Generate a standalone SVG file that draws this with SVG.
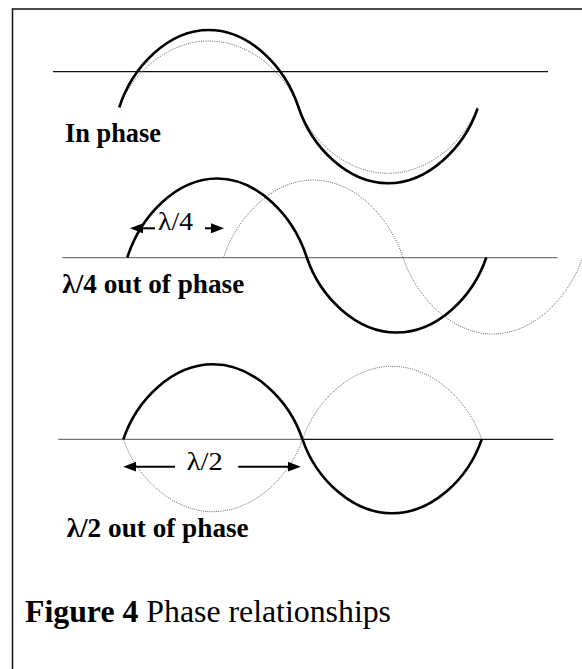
<svg xmlns="http://www.w3.org/2000/svg" width="582" height="669" viewBox="0 0 582 669">
  <style>
    .frame { fill: none; stroke: #111; stroke-width: 1.5; }
    .axis { fill: none; stroke: #111; stroke-width: 1.3; }
    .axis-gray { fill: none; stroke: #777; stroke-width: 1.3; }
    .thick { fill: none; stroke: #000; stroke-width: 2.6; stroke-linejoin: round; stroke-linecap: butt; }
    .dotted { fill: none; stroke: #666; stroke-width: 1; stroke-dasharray: 1 1.2; }
    .arrow { fill: none; stroke: #000; stroke-width: 2; }
    .label { font-family: "Liberation Serif", "Times New Roman", serif; font-weight: bold; font-size: 26.5px; fill: #000; }
    .dim { font-family: "Liberation Serif", "Times New Roman", serif; font-size: 25px; fill: #000; }
    .caption { font-family: "Liberation Serif", "Times New Roman", serif; font-size: 31.5px; fill: #000; }
  </style>
  <defs>
    <marker id="head" markerUnits="userSpaceOnUse" markerWidth="13" markerHeight="10" viewBox="0 0 13 10" refX="5" refY="5" orient="auto">
      <path d="M0,0 L13,5 L0,10 Z" fill="#000"/>
    </marker>
  </defs>

  <rect width="582" height="669" fill="#fff"/>
  <path id="frame" class="frame" d="M12.5,669 V9 H582"/>

  <g id="in-phase">
    <line class="axis" x1="53" y1="71.7" x2="548" y2="71.7"/>
    <path class="dotted" d="M119.2,107 C132.6,72.2 168.5,41 208.8,41 C249.1,41 285,72.2 298.4,107 C311.8,142.2 347.7,173.3 388,173.3 C428.3,173.3 464.2,142.2 477.6,107"/>
    <path class="thick" d="M119.2,107.5 C132.6,66.2 168.5,30 208.8,30 C249.1,30 285,66.2 298.4,107 C311.8,147.4 347.7,183.3 388,183.3 C428.3,183.3 464.2,147.4 477.6,108.5"/>
    <text class="label" x="65" y="141.5" textLength="96" lengthAdjust="spacingAndGlyphs">In phase</text>
  </g>

  <g id="quarter-out-of-phase">
    <line class="axis-gray" x1="62.4" y1="257.7" x2="557.5" y2="257.7"/>
    <path class="dotted" d="M223.5,257.5 C237,216.4 272.9,180 313.3,180 C353.6,180 389.5,216.4 403,257.5 C416.5,298 452.4,334 492.8,334 C533.1,334 569,298 582.5,257.5"/>
    <path class="thick" d="M127.3,257.5 C140.8,215.6 176.7,178.5 217.1,178.5 C257.4,178.5 293.3,215.6 306.8,257.5 C320.3,297.3 356.2,332.5 396.6,332.5 C437,332.5 472.8,297.3 486.3,257.5"/>
    <text class="dim" x="158" y="230" textLength="35" lengthAdjust="spacingAndGlyphs">λ/4</text>
    <text class="label" x="62.3" y="293" textLength="182" lengthAdjust="spacingAndGlyphs">λ/4 out of phase</text>
  </g>

  <g id="half-out-of-phase">
    <line class="axis-gray" x1="58.3" y1="439.3" x2="303" y2="439.3"/>
    <line class="axis" x1="303" y1="439.3" x2="553.3" y2="439.3"/>
    <path class="dotted" d="M123.3,439.3 C136.7,477.7 172.6,511.7 212.9,511.7 C253.2,511.7 289.1,477.7 302.5,439.3 C315.9,400.6 351.8,366.3 392.1,366.3 C432.4,366.3 468.3,400.6 481.7,439.3"/>
    <path class="thick" d="M123.3,439.3 C136.7,399.6 172.6,364.3 212.9,364.3 C253.2,364.3 289.1,399.6 302.5,439.3 C315.9,478.5 351.8,513.3 392.1,513.3 C432.4,513.3 468.3,478.5 481.7,439.3"/>
    <text class="dim" x="186.7" y="470" textLength="36" lengthAdjust="spacingAndGlyphs">λ/2</text>
    <text class="label" x="66.7" y="537" textLength="182" lengthAdjust="spacingAndGlyphs">λ/2 out of phase</text>
  </g>

  <g id="connectors">
    <line class="arrow" x1="155" y1="228.3" x2="138" y2="228.3" marker-end="url(#head)"/>
    <line class="arrow" x1="205" y1="228.3" x2="216" y2="228.3" marker-end="url(#head)"/>
    <line class="arrow" x1="175" y1="466.7" x2="131.3" y2="466.7" marker-end="url(#head)"/>
    <line class="arrow" x1="238.3" y1="466.7" x2="292.7" y2="466.7" marker-end="url(#head)"/>
  </g>

  <g id="caption">
    <text class="caption" x="25" y="622" textLength="366" lengthAdjust="spacingAndGlyphs"><tspan font-weight="bold">Figure 4</tspan> Phase relationships</text>
  </g>
</svg>
